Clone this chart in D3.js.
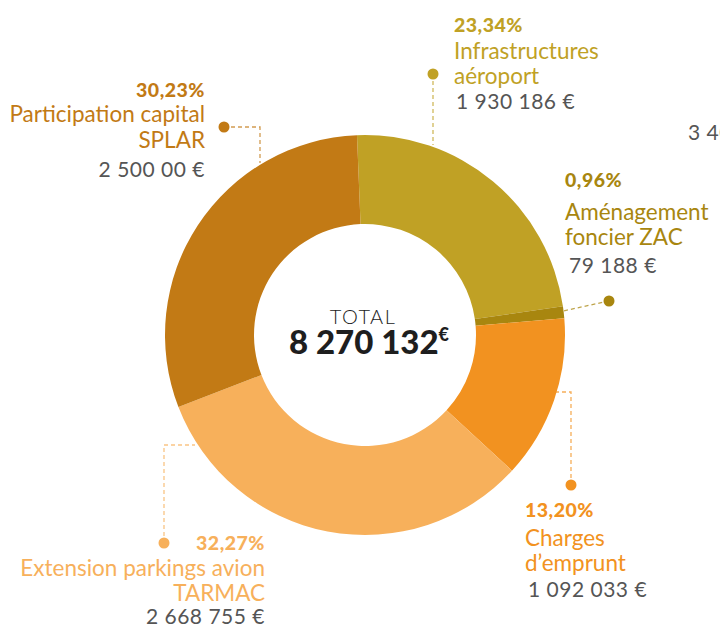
<!DOCTYPE html>
<html><head><meta charset="utf-8">
<script src="https://cdn.jsdelivr.net/npm/d3@7/dist/d3.min.js"></script>
<style>
html,body{margin:0;padding:0;background:#fff;}
svg{display:block;font-family:Lato,"Open Sans",sans-serif;}
</style></head>
<body>
<svg id="c" width="720" height="628"></svg>
<script>
// ---- data ----
const categories = ["Infrastructures aéroport","Aménagement foncier ZAC","Charges d'emprunt","Extension parkings avion TARMAC","Participation capital SPLAR"];
const labelLines = [["Infrastructures","aéroport"],["Aménagement","foncier ZAC"],["Charges","d’emprunt"],["Extension parkings avion","TARMAC"],["Participation capital","SPLAR"]];
const percents = [23.34, 0.96, 13.20, 32.27, 30.23];
const percentLabels = ["23,34%","0,96%","13,20%","32,27%","30,23%"];
const amountLabels = ["1 930 186 €","79 188 €","1 092 033 €","2 668 755 €","2 500 00 €"];
const totalLabel = "8 270 132";
const colors = ["#C0A125","#A8860F","#F29220","#F7B05B","#C27A15"];

// ---- layout ----
const cx = 365, cy = 335, R = 200, r = 111;
const startA = -0.04;
const svg = d3.select("#c");
const g = svg.append("g").attr("transform", `translate(${cx},${cy})`);

const pie = d3.pie().sort(null).value(d => d).startAngle(startA).endAngle(startA + 2*Math.PI);
const arc = d3.arc().innerRadius(r).outerRadius(R);
g.selectAll("path.slice").data(pie(percents)).join("path")
  .attr("class","slice").attr("d", arc).attr("fill", (d,i) => colors[i]);

const layout = [
  {anchor:"start", x:454, pctY:32, lineY:[59,84], amtX:456, amtY:109, path:[[433,74],[433,145]], dot:[433,74]},
  {anchor:"start", x:565, pctY:187, lineY:[220,245], amtX:569, amtY:273, path:[[609,301],[563,311]], dot:[609,301]},
  {anchor:"start", x:525, pctY:517, lineY:[546,571], amtX:528, amtY:597, path:[[571,485],[571,392],[556,392]], dot:[571,485]},
  {anchor:"end", x:265, pctY:550, lineY:[576,601], amtX:265, amtY:624, path:[[164,543],[164,445],[195,445]], dot:[164,543]},
  {anchor:"end", x:205, pctY:97, lineY:[122,148], amtX:205, amtY:177, path:[[224,127],[260,127],[260,163]], dot:[224,127]}
];

const line = d3.line();
layout.forEach((L,i) => {
  svg.append("path").attr("d", line(L.path)).attr("fill","none")
    .attr("stroke", colors[i]).attr("stroke-opacity",0.75).attr("stroke-width",1.3)
    .attr("stroke-dasharray","4,3");
  svg.append("circle").attr("cx",L.dot[0]).attr("cy",L.dot[1]).attr("r",5.5).attr("fill",colors[i]);
  svg.append("text").attr("x",L.x).attr("y",L.pctY).attr("text-anchor",L.anchor)
    .attr("font-size",19.5).attr("font-weight",900).attr("letter-spacing",0.5).attr("fill",colors[i]).text(percentLabels[i]);
  labelLines[i].forEach((t,j) => {
    svg.append("text").attr("x",L.x).attr("y",L.lineY[j]).attr("text-anchor",L.anchor)
      .attr("font-size",22.5).attr("font-weight",400).attr("fill",colors[i]).text(t);
  });
  svg.append("text").attr("x",L.amtX).attr("y",L.amtY).attr("text-anchor",L.anchor)
    .attr("font-size",21).attr("font-weight",400).attr("letter-spacing",0.5).attr("fill","#555").text(amountLabels[i]);
});

svg.append("text").attr("x",688).attr("y",140).attr("font-size",21).attr("letter-spacing",0.5).attr("fill","#555").text("3 40");

// center
svg.append("text").attr("x",363).attr("y",324).attr("text-anchor","middle")
  .attr("font-size",20).attr("font-weight",300).attr("letter-spacing",1.5).attr("fill","#222").text("TOTAL");
const tt = svg.append("text").attr("x",369).attr("y",354).attr("text-anchor","middle")
  .attr("font-size",33).attr("font-weight",900).attr("fill","#1e1e1e");
tt.append("tspan").text(totalLabel);
tt.append("tspan").attr("font-size",18).attr("dy",-13).text("€");
</script>
</body></html>
